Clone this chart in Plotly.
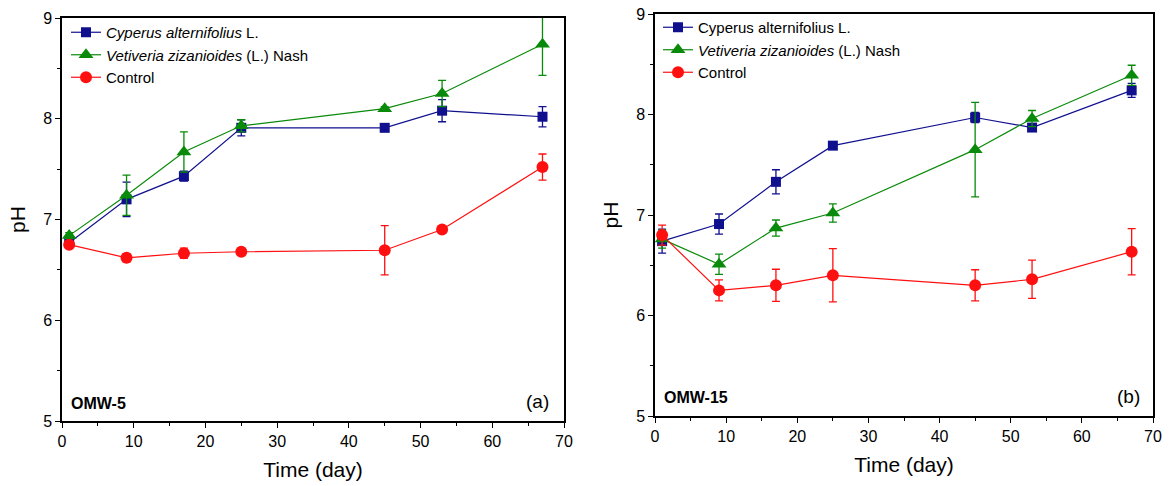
import plotly.graph_objects as go

days = [1, 9, 17, 25, 45, 53, 67]

# Panel (a) OMW-5
a_cyp = [6.77, 7.20, 7.43, 7.91, 7.91, 8.08, 8.02]
a_cyp_err = [0.04, 0.17, 0.05, 0.08, 0.02, 0.11, 0.10]
a_vet = [6.84, 7.24, 7.67, 7.93, 8.10, 8.25, 8.74]
a_vet_err = [0.03, 0.20, 0.20, 0.06, 0.02, 0.13, 0.31]
a_ctl = [6.75, 6.62, 6.665, 6.68, 6.695, 6.90, 7.52]
a_ctl_err = [0.03, 0.04, 0.05, 0.02, 0.245, 0.02, 0.13]

# Panel (b) OMW-15
b_cyp = [6.74, 6.91, 7.33, 7.69, 7.97, 7.87, 8.24]
b_cyp_err = [0.12, 0.10, 0.12, 0.02, 0.05, 0.03, 0.07]
b_vet = [6.76, 6.51, 6.87, 7.02, 7.65, 7.96, 8.39]
b_vet_err = [0.09, 0.10, 0.08, 0.09, 0.47, 0.08, 0.10]
b_ctl = [6.80, 6.25, 6.30, 6.40, 6.30, 6.36, 6.635]
b_ctl_err = [0.10, 0.105, 0.16, 0.265, 0.155, 0.19, 0.23]

BLUE = "#10108f"
GREEN = "#0a8a0a"
RED = "#ff1010"
FONT = "Liberation Sans, Arial, sans-serif"

fig = go.Figure()

def add(x, y, err, name, color, symbol, size, xa, ya, legend):
    fig.add_trace(go.Scatter(
        x=x, y=y, name=name, mode="lines+markers",
        line=dict(color=color, width=1.2),
        marker=dict(color=color, symbol=symbol, size=size),
        error_y=dict(type="data", array=err, visible=True, color=color,
                     thickness=1.3, width=4),
        xaxis=xa, yaxis=ya, legend=legend, cliponaxis=True))

add(days, a_cyp, a_cyp_err, "<i>Cyperus alternifolius</i> L.", BLUE, "square", 10, "x", "y", "legend")
add(days, a_vet, a_vet_err, "<i>Vetiveria zizanioides</i> (L.) Nash", GREEN, "triangle-up", 13, "x", "y", "legend")
add(days, a_ctl, a_ctl_err, "Control", RED, "circle", 12, "x", "y", "legend")

add(days, b_cyp, b_cyp_err, "Cyperus alternifolius L.", BLUE, "square", 10, "x2", "y2", "legend2")
add(days, b_vet, b_vet_err, "<i>Vetiveria zizanioides</i> (L.) Nash", GREEN, "triangle-up", 13, "x2", "y2", "legend2")
add(days, b_ctl, b_ctl_err, "Control", RED, "circle", 12, "x2", "y2", "legend2")

def xax(domain, anchor):
    return dict(domain=domain, anchor=anchor, range=[0, 70], dtick=10, tick0=0,
                automargin=False,
                showgrid=False, zeroline=False, showline=True, linecolor="black",
                linewidth=1.5, mirror=True, ticks="outside", ticklen=5, tickwidth=1.3,
                tickcolor="black", tickfont=dict(size=16, family=FONT, color="black"),
                minor=dict(ticks="outside", dtick=5, ticklen=3, tickwidth=1.3, tickcolor="black"),
                title=dict(text="Time (day)", font=dict(size=21, family=FONT, color="black"), standoff=13))

def yax(domain, anchor):
    return dict(domain=domain, anchor=anchor, range=[5, 9], dtick=1, tick0=5,
                automargin=False,
                showgrid=False, zeroline=False, showline=True, linecolor="black",
                linewidth=1.5, mirror=True, ticks="outside", ticklen=5, tickwidth=1.3,
                tickcolor="black", tickfont=dict(size=16, family=FONT, color="black"),
                minor=dict(ticks="outside", dtick=0.5, ticklen=3, tickwidth=1.3, tickcolor="black"),
                title=dict(text="pH", font=dict(size=21, family=FONT, color="black"), standoff=12))

W, H = 1170, 486
fig.update_layout(
    width=W, height=H, margin=dict(l=0, r=0, t=0, b=0),
    paper_bgcolor="white", plot_bgcolor="white",
    font=dict(family=FONT, color="black"),
    xaxis=xax([62 / W, 564 / W], "y"),
    yaxis=yax([1 - 421 / H, 1 - 18 / H], "x"),
    xaxis2=xax([655 / W, 1153 / W], "y2"),
    yaxis2=yax([1 - 416 / H, 1 - 14 / H], "x2"),
    legend=dict(x=66 / W, y=1 - 16 / H, xanchor="left", yanchor="top",
                bgcolor="rgba(0,0,0,0)", font=dict(size=15, family=FONT),
                tracegroupgap=0, itemwidth=30),
    legend2=dict(x=658 / W, y=1 - 11 / H, xanchor="left", yanchor="top",
                 bgcolor="rgba(0,0,0,0)", font=dict(size=15, family=FONT),
                 tracegroupgap=0, itemwidth=30),
    annotations=[
        dict(text="<b>OMW-5</b>", x=69 / W, y=1 - 403 / H, xref="paper", yref="paper",
             xanchor="left", yanchor="middle", showarrow=False, font=dict(size=16, family=FONT)),
        dict(text="(a)", x=551 / W, y=1 - 401 / H, xref="paper", yref="paper",
             xanchor="right", yanchor="middle", showarrow=False, font=dict(size=19, family=FONT)),
        dict(text="<b>OMW-15</b>", x=662 / W, y=1 - 397 / H, xref="paper", yref="paper",
             xanchor="left", yanchor="middle", showarrow=False, font=dict(size=16, family=FONT)),
        dict(text="(b)", x=1142 / W, y=1 - 396 / H, xref="paper", yref="paper",
             xanchor="right", yanchor="middle", showarrow=False, font=dict(size=19, family=FONT)),
    ],
)

fig.write_html("out.html")
